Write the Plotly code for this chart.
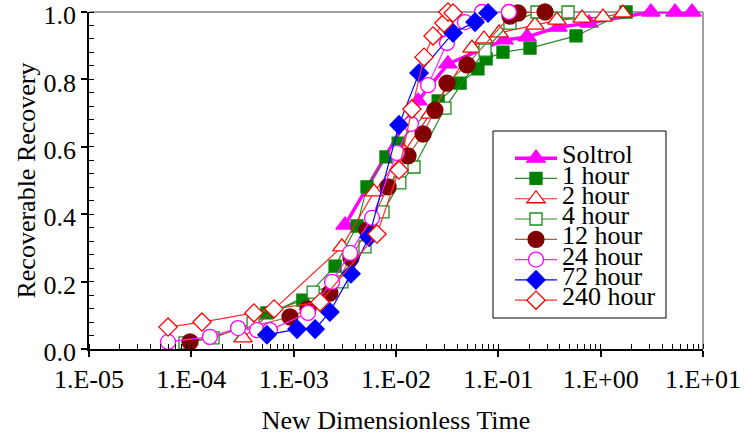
import plotly.graph_objects as go

# ---- data ----
series_names = ["Soltrol", "1 hour", "2 hour", "4 hour", "12 hour", "24 hour", "72 hour", "240 hour"]

soltrol_x = [3.18e-3, 1.64e-2, 3.22e-2, 0.114, 0.191, 0.383, 0.769, 3.10, 5.33, 7.81]
soltrol_y = [0.368, 0.736, 0.846, 0.917, 0.926, 0.955, 0.967, 1.0, 1.0, 1.0]

h1_x = [5.48e-4, 1.23e-3, 2.54e-3, 4.16e-3, 5.21e-3, 7.98e-3, 1.05e-2, 2.58e-2, 4.23e-2, 6.32e-2, 7.59e-2, 0.111, 0.204, 0.574, 1.77]
h1_y = [0.107, 0.145, 0.246, 0.365, 0.481, 0.570, 0.611, 0.736, 0.789, 0.831, 0.861, 0.881, 0.893, 0.929, 1.0]

h2_x = [3.20e-4, 2.96e-3, 6.10e-3, 1.20e-2, 2.15e-2, 5.53e-2, 7.24e-2, 0.1017, 0.228, 0.374, 0.658, 1.054, 1.65]
h2_y = [0.033, 0.303, 0.466, 0.585, 0.697, 0.893, 0.920, 0.938, 0.961, 0.976, 0.982, 0.985, 0.997]

h4_x = [8.67e-5, 1.63e-4, 4.01e-4, 1.55e-3, 2.96e-3, 4.98e-3, 7.46e-3, 1.09e-2, 1.50e-2, 3.01e-2, 7.41e-2, 0.130, 0.239, 0.480]
h4_y = [0.018, 0.033, 0.077, 0.169, 0.199, 0.303, 0.407, 0.493, 0.540, 0.715, 0.887, 0.967, 1.0, 1.0]

h12_x = [9.71e-5, 9.21e-4, 1.38e-3, 2.26e-3, 3.63e-3, 5.21e-3, 8.36e-3, 1.31e-2, 1.84e-2, 2.40e-2, 3.15e-2, 4.94e-2, 0.130, 0.156, 0.286]
h12_y = [0.021, 0.095, 0.119, 0.166, 0.270, 0.353, 0.481, 0.573, 0.638, 0.709, 0.789, 0.843, 0.988, 0.997, 1.0]

h24_x = [5.92e-5, 1.52e-4, 2.86e-4, 4.39e-4, 5.87e-4, 1.38e-3, 2.37e-3, 3.56e-3, 5.83e-3, 1.02e-2, 1.40e-2, 2.06e-2, 3.15e-2, 4.72e-2, 6.92e-2, 0.127]
h24_y = [0.021, 0.036, 0.062, 0.056, 0.056, 0.107, 0.199, 0.285, 0.389, 0.582, 0.668, 0.783, 0.908, 0.970, 1.0, 1.0]

h72_x = [5.48e-4, 1.08e-3, 1.62e-3, 2.26e-3, 3.63e-3, 5.45e-3, 1.07e-2, 1.68e-2, 3.61e-2, 5.92e-2, 7.93e-2]
h72_y = [0.042, 0.059, 0.059, 0.110, 0.223, 0.332, 0.665, 0.819, 0.938, 0.970, 0.997]

h240_x = [5.92e-5, 1.27e-4, 4.09e-4, 6.43e-4, 1.81e-3, 6.52e-3, 1.07e-2, 1.43e-2, 1.88e-2, 2.30e-2, 2.94e-2, 3.22e-2, 3.61e-2]
h240_y = [0.065, 0.080, 0.107, 0.119, 0.139, 0.341, 0.531, 0.712, 0.866, 0.929, 0.967, 1.0, 0.997]

x_tickvals = [1e-5, 1e-4, 1e-3, 1e-2, 1e-1, 1e0, 1e1]
x_ticktext = ["1.E-05", "1.E-04", "1.E-03", "1.E-02", "1.E-01", "1.E+00", "1.E+01"]
y_tickvals = [0.0, 0.2, 0.4, 0.6, 0.8, 1.0]
y_ticktext = ["0.0", "0.2", "0.4", "0.6", "0.8", "1.0"]

FONT = "Liberation Serif, 'Times New Roman', Times, serif"

styles = [
    # (x, y, line color, line width, symbol, size, fill, outline)
    (soltrol_x, soltrol_y, "#FF00FF", 3.5, "triangle-up", 16, "#FF00FF", "#FF00FF"),
    (h1_x, h1_y, "#2A8A2A", 1.2, "square", 12, "#008000", "#008000"),
    (h2_x, h2_y, "#FF2020", 1.2, "triangle-up", 16, "white", "#FF0000"),
    (h4_x, h4_y, "#1E8C1E", 1.2, "square", 12, "white", "#1E8C1E"),
    (h12_x, h12_y, "#A8603C", 1.2, "circle", 16, "#800000", "#800000"),
    (h24_x, h24_y, "#FF20FF", 1.2, "circle", 15, "white", "#FF00FF"),
    (h72_x, h72_y, "#0000FF", 1.2, "diamond", 14, "#0000FF", "#0000FF"),
    (h240_x, h240_y, "#FF3030", 1.2, "diamond", 14, "white", "#FF0000"),
]

fig = go.Figure()
for name, (xs, ys, lc, lw, sym, sz, fill, edge) in zip(series_names, styles):
    fig.add_trace(go.Scatter(
        x=xs, y=ys, mode="lines+markers", cliponaxis=False,
        name='<span style="font-size:26px">%s</span>' % name,
        line=dict(color=lc, width=lw),
        marker=dict(symbol=sym, size=sz, color=fill, line=dict(color=edge, width=1.3)),
    ))

# plot area in px: x 89..703, y 12..349
def px_x(p):
    return (p - 89) / 614.0

def px_y(p):
    return (349 - p) / 337.0

shapes = [
    dict(type="line", xref="paper", yref="paper", x0=0, x1=1, y0=1, y1=1,
         line=dict(color="#A0A0A0", width=2), layer="below"),
    dict(type="line", xref="paper", yref="paper", x0=1, x1=1, y0=0, y1=1,
         line=dict(color="#A0A0A0", width=2), layer="below"),
    dict(type="rect", xref="paper", yref="paper", x0=px_x(493), x1=px_x(666),
         y0=px_y(318), y1=px_y(131), fillcolor="white",
         line=dict(color="black", width=1), layer="above"),
]

fig.update_layout(
    width=748, height=438,
    margin=dict(l=89, r=45, t=12, b=89, autoexpand=False),
    paper_bgcolor="white", plot_bgcolor="white",
    font=dict(family=FONT, size=26, color="black"),
    shapes=shapes,
    showlegend=True,
    legend=dict(
        x=px_x(510), y=px_y(143), xanchor="left", yanchor="top",
        bgcolor="rgba(0,0,0,0)", borderwidth=0,
        font=dict(family=FONT, size=13.3, color="black"),
        tracegroupgap=0, itemwidth=42,
    ),
)

fig.update_xaxes(
    type="log", range=[-5, 1], automargin=False,
    tickvals=x_tickvals, ticktext=x_ticktext,
    showline=True, linecolor="black", linewidth=1.5,
    ticks="outside", ticklen=6, tickwidth=1.5, tickcolor="black",
    minor=dict(ticks="inside", ticklen=5, tickcolor="black", tickwidth=1, dtick="D1", showgrid=False),
    showgrid=False, zeroline=False, ticklabeloverflow="allow",
    tickfont=dict(family=FONT, size=26),
    title=dict(text="New Dimensionless Time", font=dict(family=FONT, size=26), standoff=18),
)
fig.update_yaxes(
    range=[0, 1], automargin=False,
    tickvals=y_tickvals, ticktext=y_ticktext,
    showline=True, linecolor="black", linewidth=1.5,
    ticks="outside", ticklen=6, tickwidth=1.5, tickcolor="black",
    minor=dict(ticks="inside", ticklen=5, tickcolor="black", tickwidth=1, dtick=0.04, showgrid=False),
    showgrid=False, zeroline=False, ticklabeloverflow="allow", ticklabelshift=3,
    tickfont=dict(family=FONT, size=26),
    title=dict(text="Recoverable Recovery", font=dict(family=FONT, size=26), standoff=0),
)

fig.write_html("out.html", config={"displayModeBar": False},
               post_script="document.body.style.margin='0';")
